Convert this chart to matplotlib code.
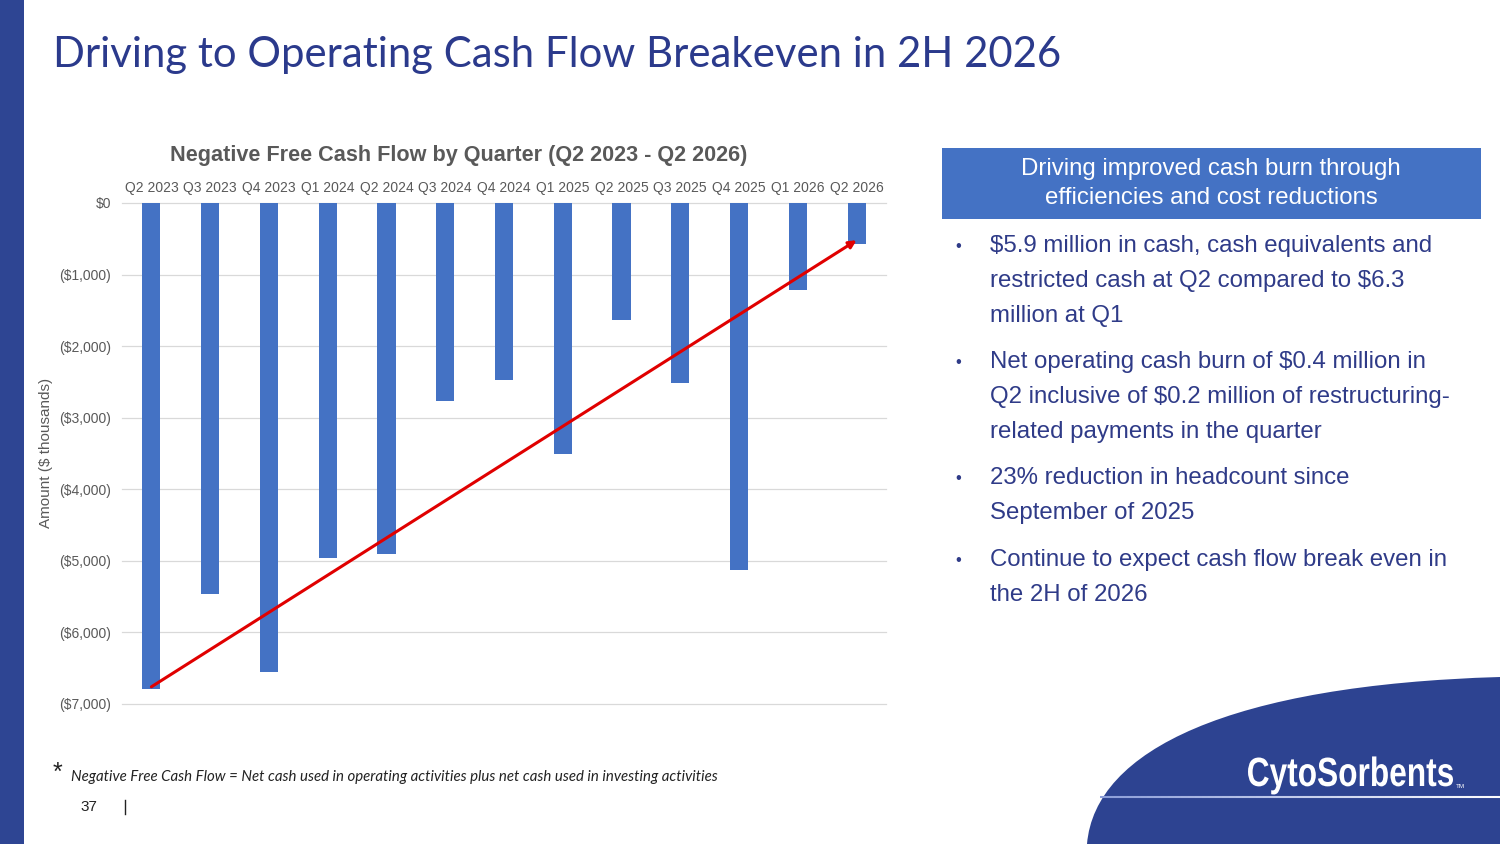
import matplotlib
matplotlib.use('Agg')
import matplotlib.pyplot as plt
from matplotlib.patches import Rectangle, PathPatch
from matplotlib.path import Path
from matplotlib.collections import LineCollection
from matplotlib.textpath import TextPath
from matplotlib.font_manager import FontProperties
from matplotlib.transforms import Affine2D
import numpy as np

quarters = ['Q2 2023', 'Q3 2023', 'Q4 2023', 'Q1 2024', 'Q2 2024', 'Q3 2024', 'Q4 2024',
            'Q1 2025', 'Q2 2025', 'Q3 2025', 'Q4 2025', 'Q1 2026', 'Q2 2026']
free_cash_flow = [-6790, -5470, -6550, -4960, -4910, -2770, -2470,
                  -3510, -1630, -2520, -5130, -1210, -570]
y_ticks = [0, -1000, -2000, -3000, -4000, -5000, -6000, -7000]
trend_from = ('Q2 2023', -6760)
trend_to = ('Q2 2026', -520)

slide_title = 'Driving to Operating Cash Flow Breakeven in 2H 2026'
chart_title = 'Negative Free Cash Flow by Quarter (Q2 2023 - Q2 2026)'
y_label = 'Amount ($ thousands)'
box_lines = ['Driving improved cash burn through', 'efficiencies and cost reductions']
bullets = [
    ['$5.9 million in cash, cash equivalents and',
     'restricted cash at Q2 compared to $6.3',
     'million at Q1'],
    ['Net operating cash burn of $0.4 million in',
     'Q2 inclusive of $0.2 million of restructuring-',
     'related payments in the quarter'],
    ['23% reduction in headcount since',
     'September of 2025'],
    ['Continue to expect cash flow break even in',
     'the 2H of 2026'],
]
footnote = 'Negative Free Cash Flow = Net cash used in operating activities plus net cash used in investing activities'
page_number = '37'
logo = 'CytoSorbents'

NAVY = '#2E4593'
TEXT_NAVY = '#2F3B88'
BAR_BLUE = '#4472C4'
GREY = '#595959'
ARIAL = ['Liberation Sans', 'DejaVu Sans']

W, H = 1500, 844
fig = plt.figure(figsize=(W / 100, H / 100), dpi=100)

# background layer in pixel coordinates
bg = fig.add_axes([0, 0, 1, 1])
bg.set_xlim(0, W)
bg.set_ylim(H, 0)
bg.axis('off')

bg.add_patch(Rectangle((0, 0), 24, H, color=NAVY, lw=0))
bg.text(53, 67, slide_title, fontsize=30.2, color='#2B3A8C', family=['Lato', 'DejaVu Sans'],
        va='baseline', ha='left')

# right panel
bg.add_patch(Rectangle((942, 148), 539, 71, color=BAR_BLUE, lw=0))
for i, line in enumerate(box_lines):
    bg.text(1211, 169 + 29 * i, line, fontsize=17.3, color='white', family=ARIAL,
            ha='center', va='center')

block_y = [246, 362, 478, 560]
for top, lines in zip(block_y, bullets):
    bg.text(958, top, '\u2022', fontsize=12, color=TEXT_NAVY, family=ARIAL, ha='center', va='center')
    for j, line in enumerate(lines):
        bg.text(990, top + 35 * j, line, fontsize=17.3, color=TEXT_NAVY, family=ARIAL,
                ha='left', va='center')

# footer
bg.text(57, 773, '*', fontsize=18, color='#222222', family=ARIAL, ha='center', va='center')
bg.text(71, 781, footnote, fontsize=10.8, style='italic', color='#222222',
        family=['Lato', 'DejaVu Sans'], ha='left', va='baseline')
bg.text(89, 807, page_number, fontsize=11, color='#222222', family=ARIAL, ha='center', va='center')
bg.plot([125, 125], [800, 814], color='#222222', lw=1)

# logo swoosh
verts = [(1087, H), (1095, 750), (1230, 685), (W, 677), (W, H), (1087, H)]
codes = [Path.MOVETO, Path.CURVE4, Path.CURVE4, Path.CURVE4, Path.LINETO, Path.CLOSEPOLY]
bg.add_patch(PathPatch(Path(verts, codes), color='#2D4391', lw=0))
xs = np.linspace(1100, W, 60)
segs = [[(xs[k], 797), (xs[k + 1], 797)] for k in range(len(xs) - 1)]
cols = [(0.55 + 0.45 * k / len(segs), 0.62 + 0.38 * k / len(segs), 0.85 + 0.15 * k / len(segs))
        for k in range(len(segs))]
bg.add_collection(LineCollection(segs, colors=cols, linewidths=1.5))

# condensed logo lettering: squeeze a bold text path to the logo width
tp = TextPath((0, 0), logo, size=40, prop=FontProperties(family='Liberation Sans', weight='bold'))
ext = tp.get_extents()
sx = 205 / ext.width
tr = Affine2D().translate(-ext.x0, 0).scale(sx, -1.02).translate(1248, 786) + bg.transData
bg.add_patch(PathPatch(tp, color='white', lw=0, transform=tr))
bg.text(1456, 788, 'TM', fontsize=4.5, color='white', family=ARIAL, ha='left', va='baseline')

# chart
ax = fig.add_axes([122 / W, 1 - 704 / H, 764 / W, 501 / H])
ax.set_facecolor('none')
x = np.arange(len(quarters))
ax.bar(x, free_cash_flow, width=0.31, color=BAR_BLUE, zorder=2)
ax.set_xlim(-0.5, len(quarters) - 0.5)
ax.set_ylim(min(y_ticks), max(y_ticks))
ax.set_yticks(y_ticks)
ax.set_yticklabels(['$0' if v == 0 else f'(${abs(v):,})' for v in y_ticks])
ax.xaxis.tick_top()
ax.set_xticks(x)
ax.set_xticklabels(quarters)
ax.tick_params(axis='both', length=0, labelsize=10, labelcolor=GREY)
ax.tick_params(axis='x', pad=6)
ax.tick_params(axis='y', pad=8)
for lab in ax.get_xticklabels() + ax.get_yticklabels():
    lab.set_family(ARIAL)
ax.grid(axis='y', color='#D9D9D9', lw=0.9, zorder=0)
for gl in ax.get_ygridlines():
    gl.set_clip_on(False)
for s in ax.spines.values():
    s.set_visible(False)

i0 = quarters.index(trend_from[0])
i1 = quarters.index(trend_to[0])
ax.annotate('', xy=(i1, trend_to[1]), xytext=(i0, trend_from[1]),
            arrowprops=dict(arrowstyle='-|>', color='#E00000', lw=2.2, mutation_scale=11,
                            shrinkA=0, shrinkB=0), zorder=3)

fig.text(459 / W, 1 - 155 / H, chart_title, fontsize=15.6, weight='bold', color=GREY,
         family=ARIAL, ha='center', va='center')
fig.text(46 / W, 1 - 453 / H, y_label, fontsize=11, color=GREY, family=ARIAL,
         rotation=90, ha='center', va='center')

fig.savefig('out.png', dpi=100)
